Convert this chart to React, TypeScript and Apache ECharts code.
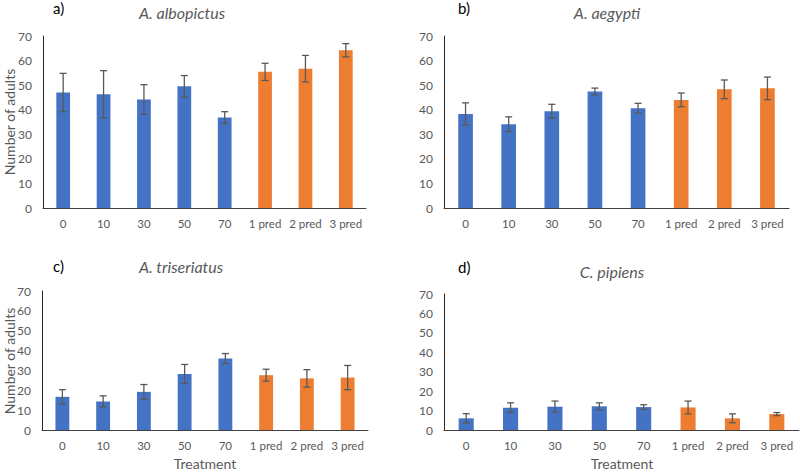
import React, { useEffect, useRef } from "react";
import * as echarts from "echarts";

const categories = ["0", "10", "30", "50", "70", "1 pred", "2 pred", "3 pred"];
const controlCount = 5;

const albopictusMean = [47.0, 46.3, 44.2, 49.5, 36.8, 55.4, 56.7, 64.2];
const albopictusErr = [7.8, 9.6, 6.0, 4.4, 2.4, 3.5, 5.4, 2.7];
const aegyptiMean = [38.3, 34.1, 39.4, 47.4, 40.6, 44.0, 48.3, 48.7];
const aegyptiErr = [4.5, 3.0, 2.8, 1.4, 2.0, 2.8, 3.8, 4.6];
const triseriatusMean = [16.7, 14.4, 19.2, 28.2, 36.0, 27.6, 26.0, 26.4];
const triseriatusErr = [3.6, 2.8, 3.7, 4.8, 2.5, 3.0, 4.4, 6.1];
const pipiensMean = [6.0, 11.5, 12.0, 12.2, 11.8, 11.6, 6.0, 8.2];
const pipiensErr = [2.4, 2.5, 2.9, 1.8, 1.2, 3.3, 2.3, 0.8];

const panelLetters = ["a)", "b)", "c)", "d)"];
const speciesNames = ["A. albopictus", "A. aegypti", "A. triseriatus", "C. pipiens"];
const yTitle = "Number of adults";
const xTitle = "Treatment";

const FONT = "Lato, 'Liberation Sans', sans-serif";
const BLUE = "#4472C4";
const ORANGE = "#ED7D31";
const GREY = "#595959";

const panels = [
  { mean: albopictusMean, err: albopictusErr, grid: { left: 43, top: 36, width: 323, height: 172 } },
  { mean: aegyptiMean, err: aegyptiErr, grid: { left: 444, top: 36, width: 345, height: 172 } },
  { mean: triseriatusMean, err: triseriatusErr, grid: { left: 42, top: 291, width: 326, height: 139 } },
  { mean: pipiensMean, err: pipiensErr, grid: { left: 444, top: 294, width: 355, height: 136 } },
];

export default function App() {
  const ref = useRef<HTMLDivElement>(null);
  useEffect(() => {
    document.body.style.margin = "0";
    if (!ref.current) return;
    const chart = echarts.init(ref.current, null, { renderer: "svg" });

    const grids = panels.map((p) => ({ ...p.grid, containLabel: false }));
    const xAxes = panels.map((_, i) => ({
      type: "category",
      gridIndex: i,
      data: categories,
      axisLine: { lineStyle: { color: "#404040", width: 1 } },
      axisTick: { show: false },
      axisLabel: { color: GREY, fontSize: 11.5, fontFamily: FONT, margin: 9, interval: 0 },
    }));
    const yAxes = panels.map((_, i) => ({
      type: "value",
      gridIndex: i,
      min: 0,
      max: 70,
      interval: 10,
      axisLine: { show: true, lineStyle: { color: "#262626", width: 1 } },
      axisTick: { show: false },
      splitLine: { show: false },
      axisLabel: { color: GREY, fontSize: 12, fontFamily: FONT, margin: 11 },
    }));

    const series: any[] = [];
    panels.forEach((p, i) => {
      series.push({
        type: "bar",
        xAxisIndex: i,
        yAxisIndex: i,
        barWidth: "34%",
        data: p.mean.map((v, k) => ({
          value: v,
          itemStyle: { color: k < controlCount ? BLUE : ORANGE },
        })),
        silent: true,
      });
      series.push({
        type: "custom",
        xAxisIndex: i,
        yAxisIndex: i,
        silent: true,
        z: 5,
        data: p.mean.map((v, k) => [k, v - p.err[k], v + p.err[k]]),
        encode: { x: 0, y: [1, 2] },
        renderItem: (params: any, api: any) => {
          const lo = api.coord([api.value(0), api.value(1)]);
          const hi = api.coord([api.value(0), api.value(2)]);
          const hw = 3.5;
          const style = { stroke: GREY, lineWidth: 1.3 };
          return {
            type: "group",
            children: [
              { type: "line", shape: { x1: lo[0], y1: lo[1], x2: hi[0], y2: hi[1] }, style },
              { type: "line", shape: { x1: hi[0] - hw, y1: hi[1], x2: hi[0] + hw, y2: hi[1] }, style },
              { type: "line", shape: { x1: lo[0] - hw, y1: lo[1], x2: lo[0] + hw, y2: lo[1] }, style },
            ],
          };
        },
      });
    });

    const letterPos = [
      [53, 8],
      [458, 8],
      [53, 266],
      [458, 267],
    ];
    const namePos = [
      [182, 12],
      [607, 12],
      [181, 266],
      [612, 271],
    ];
    const graphic: any[] = [];
    panelLetters.forEach((t, i) => {
      graphic.push({
        type: "text",
        x: letterPos[i][0],
        y: letterPos[i][1],
        style: { text: t, fill: "#000", font: `15px ${FONT}`, textAlign: "left", textVerticalAlign: "middle" },
      });
      graphic.push({
        type: "text",
        x: namePos[i][0],
        y: namePos[i][1],
        style: {
          text: speciesNames[i],
          fill: GREY,
          font: `italic 16px ${FONT}`,
          textAlign: "center",
          textVerticalAlign: "middle",
        },
      });
    });
    [
      [9, 122],
      [9, 361],
    ].forEach(([x, y]) => {
      graphic.push({
        type: "text",
        x,
        y,
        rotation: Math.PI / 2,
        style: { text: yTitle, fill: GREY, font: `14px ${FONT}`, textAlign: "center", textVerticalAlign: "middle" },
      });
    });
    [
      [205, 463],
      [622, 463],
    ].forEach(([x, y]) => {
      graphic.push({
        type: "text",
        x,
        y,
        style: { text: xTitle, fill: GREY, font: `14px ${FONT}`, textAlign: "center", textVerticalAlign: "middle" },
      });
    });

    chart.setOption({
      animation: false,
      backgroundColor: "#fff",
      grid: grids,
      xAxis: xAxes,
      yAxis: yAxes,
      series,
      graphic,
    });
    return () => chart.dispose();
  }, []);
  return <div ref={ref} style={{ width: 800, height: 472 }} />;
}
